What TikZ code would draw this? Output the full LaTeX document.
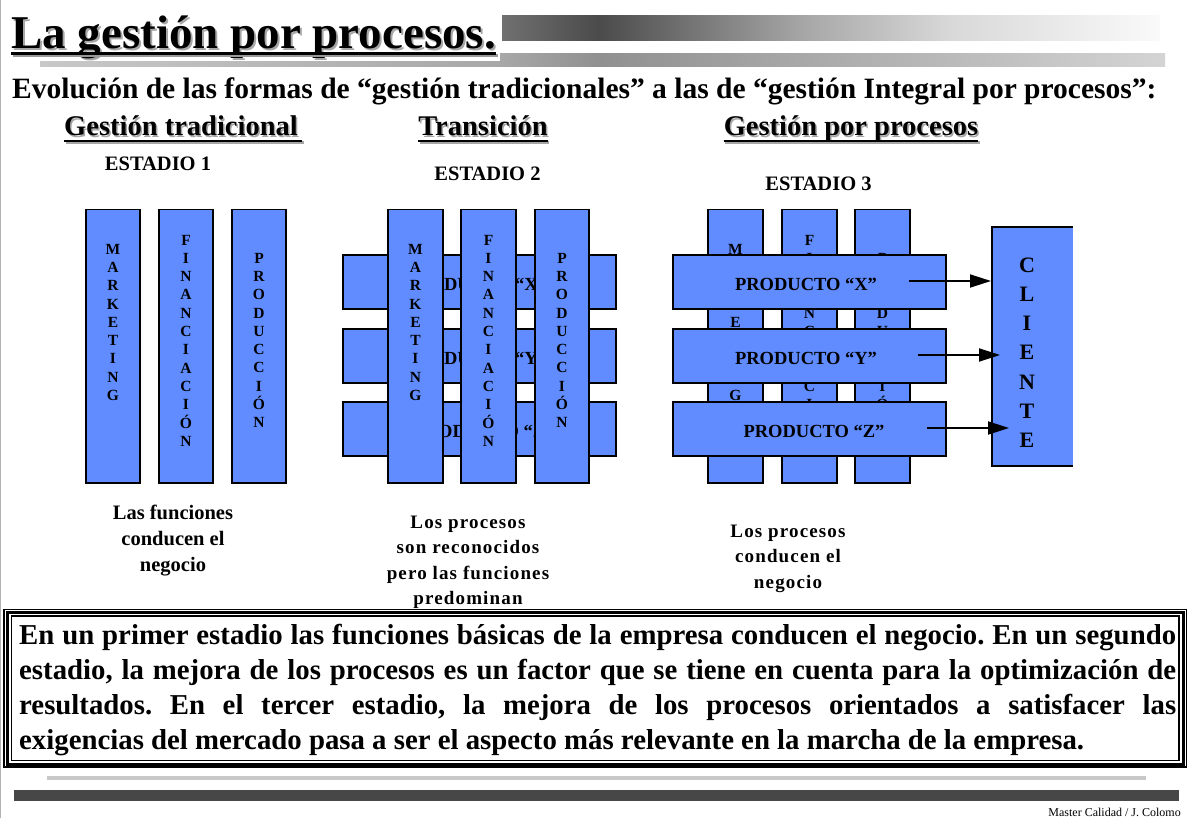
\documentclass[tikz,border=0pt]{standalone}
\usepackage{fontspec}
\setmainfont{Liberation Serif}
\newfontfamily\spacedfont[LetterSpace=6]{Liberation Serif}
\usetikzlibrary{arrows.meta}
\frenchspacing
\definecolor{boxblue}{RGB}{96,140,255}
\definecolor{darkbar}{RGB}{71,71,71}
\definecolor{lightbar}{RGB}{200,200,200}
\definecolor{tbA}{RGB}{112,112,112}
\definecolor{tbB}{RGB}{75,75,75}
\definecolor{tbC}{RGB}{165,165,165}
\definecolor{tbD}{RGB}{216,216,216}
\definecolor{tbE}{RGB}{250,250,250}
\definecolor{lbA}{RGB}{200,200,200}
\definecolor{lbB}{RGB}{168,168,168}
\definecolor{lbC}{RGB}{144,144,144}
\definecolor{lbD}{RGB}{212,212,212}
\pgfdeclarehorizontalshading{topbar}{100bp}{color(0bp)=(tbA); color(25bp)=(tbA); color(32.4bp)=(tbB); color(47.6bp)=(tbC); color(59bp)=(tbD); color(75bp)=(tbE); color(100bp)=(tbE)}
\pgfdeclarehorizontalshading{lowbar}{100bp}{color(0bp)=(lbA); color(25bp)=(lbA); color(45.3bp)=(lbB); color(49.9bp)=(lbC); color(75bp)=(lbD); color(100bp)=(lbD)}
\newcommand{\vstack}[1]{\parbox[t]{40pt}{\centering #1}}
\newcommand{\capbox}[1]{\parbox[t]{220pt}{\centering #1}}
\begin{document}
\begin{tikzpicture}[x=1pt,y=-1pt,
  col/.style={draw=black, line width=1.8pt, fill=boxblue, minimum width=54.5pt, minimum height=273.5pt, inner sep=0pt},
  bar/.style={draw=black, line width=1.8pt, fill=boxblue, minimum width=273pt, minimum height=54pt, inner sep=0pt},
  stack/.style={inner sep=0pt, anchor=base, font=\bfseries\fontsize{15.5}{18.3}\selectfont},
  bartext/.style={inner sep=0pt, anchor=base, font=\bfseries\fontsize{18.5}{20}\selectfont},
  estadio/.style={inner sep=0pt, anchor=base, font=\bfseries\fontsize{20.5}{24}\selectfont},
  heading/.style={inner sep=0pt, anchor=base, font=\bfseries\fontsize{28.5}{32}\selectfont},
  shadowtext/.style={text=black!35},
  arrow/.style={line width=1.8pt, -{Triangle[length=21pt,width=13pt]}},
  ]
\useasboundingbox (0,0) rectangle (1190,818);
\fill[white] (0,0) rectangle (1190,818);
\draw[black!30, line width=1pt] (0.5,0) -- (0.5,818);

% --- header bars ---
\shade[shading=topbar] (502,16) rectangle (1160,41);
\shade[shading=lowbar] (40,54) rectangle (1165,67);
\fill[white] (8,48) rectangle (500,61.5);

% --- title ---
\node[inner sep=0pt, anchor=base west, font=\bfseries\fontsize{47}{50}\selectfont, shadowtext] (titlesh) at (13,50.5) {La gestión por procesos.};
\node[inner sep=0pt, anchor=base west, font=\bfseries\fontsize{47}{50}\selectfont] (title) at (11,48.5) {La gestión por procesos.};
\draw[black!40, line width=3pt] (13,56) -- (498,56);
\draw[black, line width=3pt] (11,54) -- (496,54);

% --- subtitle ---
\node[inner sep=0pt, anchor=base west, font=\bfseries\fontsize{29.5}{32}\selectfont] (evol) at (12,99) {Evolución de las formas de “gestión tradicionales” a las de “gestión Integral por procesos”:};

% --- headings ---
\node[heading, shadowtext] (h1s) at (182.5,137.5) {Gestión tradicional};
\node[heading] (h1) at (181,136) {Gestión tradicional};
\draw[black!35, line width=2.5pt] (h1s.base west) ++(0,5) -- ++(238,0);
\draw[line width=2.5pt] (h1.base west) ++(0,5) -- ++(238,0);
\node[heading, shadowtext] (h2s) at (484.5,137.5) {Transición};
\node[heading] (h2) at (483,136) {Transición};
\draw[black!35, line width=2.5pt] (h2s.base west) ++(0,5) -- (h2s.base east |- 0,142.5);
\draw[line width=2.5pt] (h2.base west) ++(0,5) -- (h2.base east |- 0,141);
\node[heading, shadowtext] (h3s) at (852.5,137.5) {Gestión por procesos};
\node[heading] (h3) at (851,136) {Gestión por procesos};
\draw[black!35, line width=2.5pt] (h3s.base west) ++(0,5) -- (h3s.base east |- 0,142.5);
\draw[line width=2.5pt] (h3.base west) ++(0,5) -- (h3.base east |- 0,141);

% --- estadio labels ---
\node[estadio] (e1) at (158,171) {ESTADIO 1};
\node[estadio] (e2) at (487.5,181) {ESTADIO 2};
\node[estadio] (e3) at (818.5,191) {ESTADIO 3};

% ===== ESTADIO 1 =====
\node[col] (c1a) at (113,346.3) {};
\node[col] (c1b) at (186,346.3) {};
\node[col] (c1c) at (259,346.3) {};
\node[stack] (t1a) at (113,254.1) {\vstack{M\\A\\R\\K\\E\\T\\I\\N\\G}};
\node[stack] (t1b) at (186,245.1) {\vstack{F\\I\\N\\A\\N\\C\\I\\A\\C\\I\\Ó\\N}};
\node[stack] (t1c) at (259,263.1) {\vstack{P\\R\\O\\D\\U\\C\\C\\I\\Ó\\N}};

% ===== ESTADIO 2 =====
\node[bar] (b2x) at (479.5,282) {};
\node[bar] (b2y) at (479.5,356) {};
\node[bar] (b2z) at (479.5,429) {};
\node[bartext] (p2x) at (476,290) {PRODUCTO “X”};
\node[bartext] (p2y) at (476,364) {PRODUCTO “Y”};
\node[bartext] (p2z) at (484,437) {PRODUCTO “Z”};
\node[col] (c2a) at (415.5,346.3) {};
\node[col] (c2b) at (488.5,346.3) {};
\node[col] (c2c) at (562,346.3) {};
\node[stack] (t2a) at (415.5,254.1) {\vstack{M\\A\\R\\K\\E\\T\\I\\N\\G}};
\node[stack] (t2b) at (488.5,245.1) {\vstack{F\\I\\N\\A\\N\\C\\I\\A\\C\\I\\Ó\\N}};
\node[stack] (t2c) at (562,263.1) {\vstack{P\\R\\O\\D\\U\\C\\C\\I\\Ó\\N}};

% ===== ESTADIO 3 =====
\node[col] (c3a) at (735.5,346.3) {};
\node[col] (c3b) at (809.5,346.3) {};
\node[col] (c3c) at (882.5,346.3) {};
\node[stack] (t3a) at (735.5,254.1) {\vstack{M\\A\\R\\K\\E\\T\\I\\N\\G}};
\node[stack] (t3b) at (809.5,245.1) {\vstack{F\\I\\N\\A\\N\\C\\I\\A\\C\\I\\Ó\\N}};
\node[stack] (t3c) at (882.5,263.1) {\vstack{P\\R\\O\\D\\U\\C\\C\\I\\Ó\\N}};
\node[bar] (b3x) at (809.5,282) {};
\node[bar] (b3y) at (809.5,356) {};
\node[bar] (b3z) at (809.5,429) {};
\node[bartext] (p3x) at (806,290) {PRODUCTO “X”};
\node[bartext] (p3y) at (806,364) {PRODUCTO “Y”};
\node[bartext] (p3z) at (814,437) {PRODUCTO “Z”};

% CLIENTE box
\node[fill=boxblue, minimum width=80pt, minimum height=238pt, inner sep=0pt] (cli) at (1032.5,346.5) {};
\draw[line width=1.8pt] (cli.north east) -- (cli.north west) -- (cli.south west) -- (cli.south east);
\node[inner sep=0pt, anchor=base, font=\bfseries\fontsize{22}{29.2}\selectfont] (clit) at (1027,272.3) {\vstack{C\\L\\I\\E\\N\\T\\E}};

% arrows
\coordinate (a1s) at (909,281);
\coordinate (a1e) at (991,281);
\coordinate (a2s) at (918,355);
\coordinate (a2e) at (1000,355);
\coordinate (a3s) at (927,428);
\coordinate (a3e) at (1009,428);
\draw[arrow] (a1s) -- (a1e);
\draw[arrow] (a2s) -- (a2e);
\draw[arrow] (a3s) -- (a3e);

% --- captions ---
\node[inner sep=0pt, anchor=base, font=\bfseries\fontsize{20.5}{26}\selectfont] (cap1) at (173,519) {\capbox{Las funciones\\conducen el\\negocio}};
\node[inner sep=0pt, anchor=base, font=\spacedfont\bfseries\fontsize{19}{25.5}\selectfont] (cap2) at (468,528) {\capbox{Los procesos\\son reconocidos\\pero las funciones\\predominan}};
\node[inner sep=0pt, anchor=base, font=\spacedfont\bfseries\fontsize{19}{25.5}\selectfont] (cap3) at (788,537) {\capbox{Los procesos\\conducen el\\negocio}};

% --- bottom box ---
\draw[line width=1.2pt] (4,609.5) rectangle (1186.5,767);
\draw[line width=3pt] (7.5,612.5) rectangle (1183,764);
\draw[line width=1.2pt] (11.5,616) rectangle (1179,760.5);
\node[inner sep=0pt, anchor=base west, font=\bfseries\fontsize{28.8}{35}\selectfont] (para) at (19,644) {\parbox[t]{1157pt}{\frenchspacing En un primer estadio las funciones básicas de la empresa conducen el negocio. En un segundo\linebreak estadio, la mejora de los procesos es un factor que se tiene en cuenta para la optimización de\linebreak resultados. En el tercer estadio, la mejora de los procesos orientados a satisfacer las\linebreak exigencias del mercado pasa a ser el aspecto más relevante en la marcha de la empresa.}};

% --- footer ---
\fill[lightbar] (47,776) rectangle (1146,780);
\fill[darkbar] (14,790) rectangle (1179,801);
\node[inner sep=0pt, anchor=base east, font=\fontsize{12}{14}\selectfont] (foot) at (1181,816) {Master Calidad / J. Colomo};
\end{tikzpicture}
\end{document}
